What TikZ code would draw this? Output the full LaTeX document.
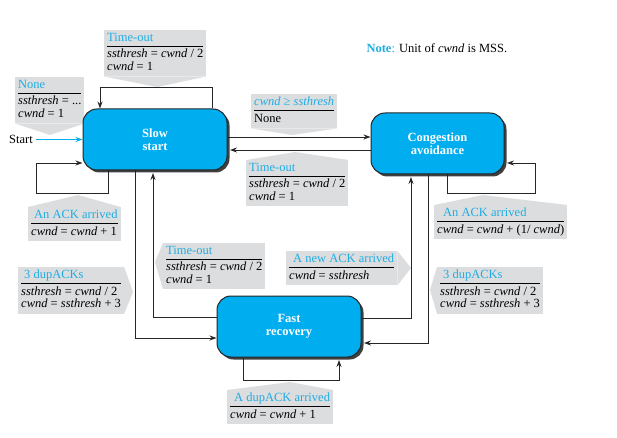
\documentclass[tikz,border=0pt]{standalone}
\usepackage{fontspec}
\setmainfont{Liberation Serif}
\usetikzlibrary{arrows.meta,shadows}
\definecolor{boxcyan}{HTML}{00AEEF}
\definecolor{labgray}{HTML}{DCDDDE}
\definecolor{labcyan}{HTML}{1FADE4}
\setlength{\arrayrulewidth}{0.7pt}
\newcommand{\lab}[2]{\begin{tabular}{@{}l@{}}\textcolor{labcyan}{#1}\\[1pt]\hline\rule{0pt}{11.5pt}#2\end{tabular}}

\begin{document}
\begin{tikzpicture}[x=1pt,y=-1pt,
    >={Stealth[length=7pt,width=5pt]},
    every node/.style={font=\fontsize{12.5}{12}\selectfont},
    state/.style={draw=black!85,line width=1pt,fill=boxcyan,rounded corners=14pt,
      text=white,font=\fontsize{12.5}{13}\selectfont\bfseries,align=center,
      drop shadow={shadow xshift=2.5pt,shadow yshift=-2.5pt,fill=black!75,opacity=1}},
    lab/.style={fill=labgray,anchor=north west,inner xsep=3pt,inner ysep=2.5pt},
    ptr/.style={fill=labgray}]
  \useasboundingbox (0,0) rectangle (617,438);

  \node[lab] (tl) at (104,30) {\lab{Time-out}{\textit{ssthresh} = \textit{cwnd} / 2\\\textit{cwnd} = 1}};
  \fill[ptr] (tl.south west) -- (157,87) -- (tl.south east) -- cycle;
  \node[lab] (nl) at (15,77) {\lab{None}{\textit{ssthresh} = ...\\\textit{cwnd} = 1}};
  \fill[ptr] (nl.south west) -- (50,135) -- (nl.south east) -- cycle;
  \node[lab] (al) at (28,207) {\lab{\hspace*{3pt}An ACK arrived}{\textit{cwnd} = \textit{cwnd} + 1}};
  \fill[ptr] (al.north west) -- (78,195) -- (al.north east) -- cycle;
  \node[lab] (gl) at (251,94) {\lab{\textit{cwnd} ≥ \textit{ssthresh}}{None}};
  \fill[ptr] (gl.south west) -- (292,135) -- (gl.south east) -- cycle;
  \node[lab] (tm) at (246,160) {\lab{Time-out}{\textit{ssthresh} = \textit{cwnd} / 2\\\textit{cwnd} = 1}};
  \fill[ptr] (tm.north west) -- (295,152) -- (tm.north east) -- cycle;
  \node[lab] (ar) at (434,205) {\lab{\hspace*{6pt}An ACK arrived}{\textit{cwnd} = \textit{cwnd} + (1/ \textit{cwnd})}};
  \fill[ptr] (ar.north west) -- (483,195) -- (ar.north east) -- cycle;
  \node[lab] (dl) at (18,267) {\lab{\hspace*{3pt}3 dupACKs}{\textit{ssthresh} = \textit{cwnd} / 2\\\textit{cwnd} = \textit{ssthresh} + 3}};
  \fill[ptr] (dl.north east) -- (133,292) -- (dl.south east) -- cycle;
  \node[lab] (tf) at (163,243) {\lab{Time-out}{\textit{ssthresh} = \textit{cwnd} / 2\\\textit{cwnd} = 1}};
  \fill[ptr] (tf.north west) -- (155,262) -- (tf.south west) -- cycle;
  \node[lab] (nw) at (286,251) {\lab{\hspace*{4pt}A new ACK arrived}{\textit{cwnd} = \textit{ssthresh}}};
  \fill[ptr] (nw.north east) -- (411,268) -- (nw.south east) -- cycle;
  \node[lab] (dr) at (437,267) {\lab{\hspace*{3pt}3 dupACKs}{\textit{ssthresh} = \textit{cwnd} / 2\\\textit{cwnd} = \textit{ssthresh} + 3}};
  \fill[ptr] (dr.north west) -- (430,290) -- (dr.south west) -- cycle;
  \node[lab] (da) at (227,390) {\lab{\hspace*{4pt}A dupACK arrived}{\textit{cwnd} = \textit{cwnd} + 1}};
  \fill[ptr] (da.north west) -- (290,382) -- (da.north east) -- cycle;

  \node[anchor=base west] (note) at (363,53) {\textcolor{labcyan}{\textbf{Note}:} Unit of \textit{cwnd} is MSS.};
  \node (start) at (21,139.5) {Start};

  \node[state,minimum width=144pt,minimum height=61pt] (ss) at (155,139.5) {Slow\\start};
  \node[state,minimum width=133pt,minimum height=61pt] (ca) at (437.5,143.5) {Congestion\\avoidance};
  \node[state,minimum width=144pt,minimum height=61pt] (fr) at (289,326.5) {Fast\\recovery};
  \path ([yshift=6.5pt]ca.west) coordinate (ca1) ([yshift=-6.5pt]ca.west) coordinate (ca2);

  \draw[->,boxcyan,line width=1pt] (start) -- (start -| ss.west);
  \begin{scope}[->,draw=black!85,line width=0.9pt]
    \draw ([xshift=57pt]ss.north) -- ++(0,-21) -| ([xshift=-55pt]ss.north);
    \draw ([xshift=-47pt]ss.south) -- ++(0,23) -| ([xshift=-46pt,yshift=-23.5pt]ss.west) -- ([yshift=-23.5pt]ss.west);
    \draw (ca1 -| ss.east) -- (ca1);
    \draw[shorten >=2.5pt] (ca2) -- (ca2 -| ss.east);
    \draw[shorten >=2.5pt] ([xshift=9.5pt]ca.south) -- ++(0,19) -| ([xshift=31pt,yshift=-19.5pt]ca.east) -- ([yshift=-19.5pt]ca.east);
    \draw ([xshift=-20pt]ss.south) |- ([yshift=-11.5pt]fr.west);
    \draw[shorten >=2.5pt] ([yshift=9.5pt]fr.west) -| ([xshift=-2pt]ss.south);
    \draw[shorten >=2.5pt] ([yshift=8.5pt]fr.east) -| ([xshift=-26.5pt]ca.south);
    \draw[shorten >=2.5pt] ([xshift=-9.5pt]ca.south) |- ([yshift=-16.5pt]fr.east);
    \draw[shorten >=2.5pt] ([xshift=-46pt]fr.south) -- ++(0,23) -| ([xshift=50pt]fr.south);
  \end{scope}
\end{tikzpicture}
\end{document}
